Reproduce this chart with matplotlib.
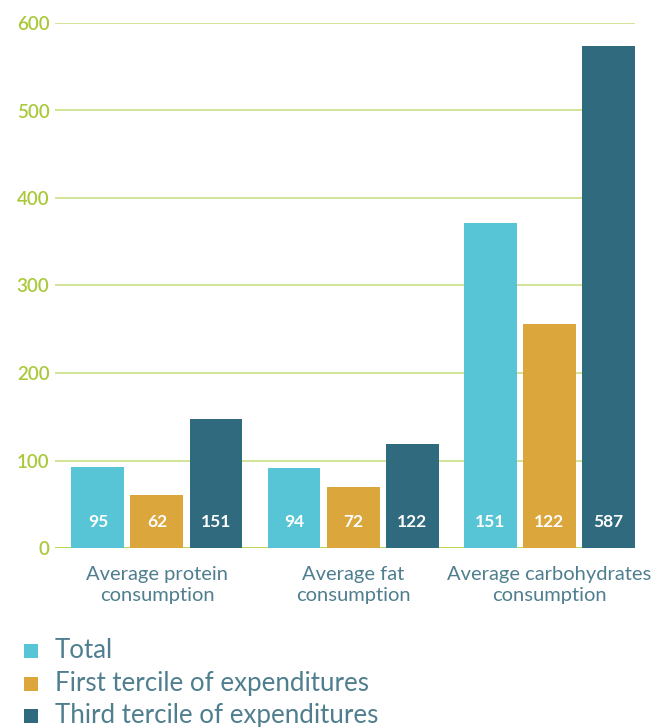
import numpy as np
import matplotlib
matplotlib.use('Agg')
import matplotlib.pyplot as plt
from matplotlib.patches import Rectangle

plt.rcParams['font.family'] = ['Lato', 'DejaVu Sans']

categories = ['Average protein\nconsumption', 'Average fat\nconsumption', 'Average carbohydrates\nconsumption']
series_names = ['Total', 'First tercile of expenditures', 'Third tercile of expenditures']
# bar heights as drawn
heights = {
    'Total': [93, 91, 371],
    'First tercile of expenditures': [61, 70, 256],
    'Third tercile of expenditures': [147, 119, 574],
}
# numbers printed inside the bars
bar_labels = {
    'Total': ['95', '94', '151'],
    'First tercile of expenditures': ['62', '72', '122'],
    'Third tercile of expenditures': ['151', '122', '587'],
}
y_ticks = [0, 100, 200, 300, 400, 500, 600]

colors = {'Total': '#57c5d6', 'First tercile of expenditures': '#dba63c',
          'Third tercile of expenditures': '#2f6a7e'}
grid_col = '#cde28f'
tick_col = '#a9c93a'
text_col = '#4f7f8f'

fig = plt.figure(figsize=(6.59, 7.27), dpi=100)
ax = fig.add_axes([55 / 659, 179 / 727, 580 / 659, 525 / 727])

x = np.arange(len(categories))
width = 0.27
step = 0.301
for i, name in enumerate(series_names):
    pos = x + (i - 1) * step
    ax.bar(pos, heights[name], width=width, color=colors[name], zorder=3)
    for px, lab in zip(pos, bar_labels[name]):
        ax.text(px, 30, lab, ha='center', va='center', color='white',
                fontsize=12.5, fontweight='bold', zorder=4)

ax.set_xlim(-0.52, 2.438)
ax.set_ylim(0, 600)
ax.set_yticks(y_ticks)
ax.set_yticklabels([str(t) for t in y_ticks])
for t in y_ticks:
    ax.axhline(t, color=grid_col if t else '#b5d445', lw=1.3, zorder=1)
ax.tick_params(axis='y', length=0, pad=4, labelsize=13.5, labelcolor=tick_col)
for lab in ax.get_yticklabels():
    lab.set_fontweight('semibold')
ax.set_xticks(x)
ax.set_xticklabels(categories, fontsize=14.5, color=text_col, linespacing=1.3)
ax.tick_params(axis='x', length=0, pad=13)
for s in ax.spines.values():
    s.set_visible(False)

# legend drawn by hand (squares + labels)
row_y = [651, 684, 716]
for name, ry in zip(series_names, row_y):
    fig.patches.append(Rectangle((24 / 659, 1 - (ry + 7) / 727), 14 / 659, 14 / 727,
                                 transform=fig.transFigure, facecolor=colors[name],
                                 edgecolor='none'))
    fig.text(55 / 659, 1 - ry / 727, name, ha='left', va='center',
             fontsize=18.6, color=text_col)

fig.savefig('out.png', dpi=100)
